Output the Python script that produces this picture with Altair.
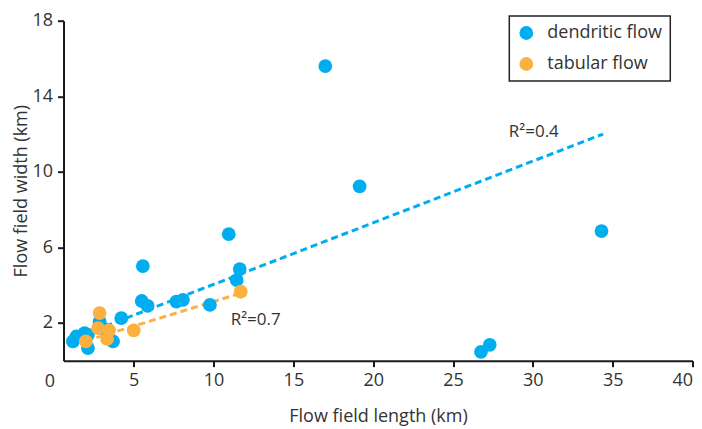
import altair as alt
import pandas as pd

# Dendritic flow points (length km, width km)
dend_x = [17.0, 19.15, 34.3, 10.95, 5.57, 11.64, 11.45, 5.5, 5.87, 7.67, 8.08, 9.77,
          27.3, 26.75, 4.22, 2.86, 1.4, 1.19, 2.13, 2.13, 3.7, 3.07, 1.92]
dend_y = [15.6, 9.23, 6.86, 6.70, 5.01, 4.85, 4.27, 3.16, 2.90, 3.13, 3.22, 2.95,
          0.84, 0.47, 2.25, 2.07, 1.28, 1.02, 1.37, 0.67, 1.02, 1.72, 1.46]

# Tabular flow points
tab_x = [11.7, 2.86, 2.76, 3.45, 3.33, 5.0, 2.0]
tab_y = [3.65, 2.52, 1.72, 1.6, 1.15, 1.6, 1.02]

# Fitted trend lines (end points)
dend_fit_x = [1.3, 34.4]
dend_fit_y = [1.2, 12.0]
tab_fit_x = [2.0, 11.8]
tab_fit_y = [1.05, 3.6]

# Annotations
r2_x = [30.06, 12.64]
r2_y = [12.13, 2.16]
r2_text = ["R\u00b2=0.4", "R\u00b2=0.7"]

categories = ["dendritic flow", "tabular flow"]
colors = ["#00AEEF", "#FBB040"]

points = pd.DataFrame({
    "length": dend_x + tab_x,
    "width": dend_y + tab_y,
    "type": [categories[0]] * len(dend_x) + [categories[1]] * len(tab_x),
})
dend_fit = pd.DataFrame({"length": dend_fit_x, "width": dend_fit_y})
tab_fit = pd.DataFrame({"length": tab_fit_x, "width": tab_fit_y})
r2 = pd.DataFrame({"length": r2_x, "width": r2_y, "text": r2_text})
origin = pd.DataFrame({"length": [0], "width": [0], "text": ["0"]})

FONT = "Open Sans"
xs = alt.Scale(domain=[0.6, 40], nice=False, zero=False)
ys = alt.Scale(domain=[0, 18], nice=False, zero=False)

X = alt.X("length:Q", scale=xs, title="Flow field length (km)",
          axis=alt.Axis(values=[5, 10, 15, 20, 25, 30, 35, 40], titlePadding=18))
Y = alt.Y("width:Q", scale=ys, title="Flow field width (km)",
          axis=alt.Axis(values=[2, 6, 10, 14, 18], titlePadding=1))

blue_line = alt.Chart(dend_fit).mark_line(
    strokeDash=[7, 4], strokeWidth=3, color=colors[0]
).encode(x=X, y=Y)
orange_line = alt.Chart(tab_fit).mark_line(
    strokeDash=[7, 4], strokeWidth=3, color=colors[1]
).encode(x=X, y=Y)

pts = alt.Chart(points).mark_circle(size=190, opacity=1).encode(
    x=X, y=Y,
    color=alt.Color("type:N", scale=alt.Scale(domain=categories, range=colors),
                    legend=alt.Legend(
                        title=None, orient="none", legendX=445.8, legendY=-4.7,
                        strokeColor="#222", fillColor="white",
                        padding=8, labelFont=FONT, labelFontSize=18, labelColor="#333",
                        symbolSize=190, symbolType="circle", symbolStrokeWidth=0,
                        symbolOpacity=1, rowPadding=13, labelOffset=12,
                        labelExpr="datum.label + '\u00a0\u00a0\u00a0\u00a0'")),
)

r2_text_layer = alt.Chart(r2).mark_text(
    font=FONT, fontSize=17, color="#333", align="center", baseline="middle"
).encode(x=X, y=Y, text="text:N")

origin_layer = alt.Chart(origin).mark_text(
    font=FONT, fontSize=18, color="#333", align="center", baseline="middle",
    dx=-4, dy=21, clip=False
).encode(x=X, y=Y, text="text:N")

chart = alt.layer(blue_line, orange_line, pts, r2_text_layer, origin_layer).properties(
    width=629, height=340,
    autosize=alt.AutoSizeParams(type="none"),
    padding={"left": 55.5, "top": 12.7, "right": 1.5, "bottom": 68},
).configure_view(stroke=None).configure_axis(
    grid=False, domainColor="#1a1a1a", domainWidth=2, tickColor="#1a1a1a",
    tickWidth=2, tickSize=6, labelFont=FONT, labelFontSize=18, labelColor="#333",
    labelPadding=5, titleFont=FONT, titleFontSize=18, titleFontWeight="normal",
    titleColor="#333",
).configure_legend(strokeWidth=1.5)

chart.save("out.html", embed_options={"renderer": "svg", "actions": False})
